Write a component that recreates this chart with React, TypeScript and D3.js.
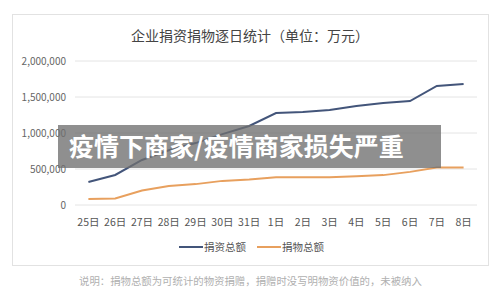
import React from "react";
import * as d3 from "d3";

const categories = ["25日", "26日", "27日", "28日", "29日", "30日", "31日", "1日", "2日", "3日", "4日", "5日", "6日", "7日", "8日"];
const cashDonations = [320000, 417000, 625000, 760000, 860000, 985000, 1097000, 1278000, 1290000, 1320000, 1375000, 1417000, 1444000, 1653000, 1680000];
const goodsDonations = [83000, 90000, 200000, 265000, 290000, 335000, 355000, 385000, 385000, 385000, 400000, 415000, 460000, 520000, 520000];
const yTicks = [0, 500000, 1000000, 1500000, 2000000];
const seriesNames = ["捐资总额", "捐物总额"];
const title = "企业捐资捐物逐日统计（单位：万元）";
const note = "说明：捐物总额为可统计的物资捐赠，捐赠时没写明物资价值的，未被纳入";
const banner = "疫情下商家/疫情商家损失严重";

const FONT = "'Noto Sans CJK SC', 'Noto Sans', sans-serif";
const BLUE = "#43557a";
const ORANGE = "#e8a05e";

export default function App() {
  const W = 500, H = 295;
  const x = d3.scaleBand<string>().domain(categories).range([75, 477]);
  const y = d3.scaleLinear().domain([0, 2000000]).range([205, 61]);
  const cx = (c: string) => (x(c) as number) + x.bandwidth() / 2;
  const line = d3.line<number>().x((_, i) => cx(categories[i])).y((d) => y(d));
  const fmt = d3.format(",");
  return (
    <svg width={W} height={H} style={{ position: "absolute", left: 0, top: 0, background: "#fff" }} fontFamily={FONT}>
      <rect x={0} y={0} width={W} height={H} fill="#fff" />
      <rect x={12.5} y={14.5} width={476} height={251} fill="#fff" stroke="#e2e2e2" />
      <text x={250} y={41} textAnchor="middle" fontSize={14} fill="#444">{title}</text>
      {yTicks.map((t) => (
        <g key={t}>
          <line x1={75} x2={477} y1={y(t)} y2={y(t)} stroke="#e4e4e4" />
          <text x={66} y={y(t) + 3.5} textAnchor="end" fontSize={10} fill="#666">{fmt(t)}</text>
        </g>
      ))}
      {categories.map((c) => (
        <text key={c} x={cx(c)} y={226} textAnchor="middle" fontSize={10.5} fill="#555">{c}</text>
      ))}
      <path d={line(goodsDonations) || ""} fill="none" stroke={ORANGE} strokeWidth={2} />
      <path d={line(cashDonations) || ""} fill="none" stroke={BLUE} strokeWidth={2} />
      <g fontSize={10.5} fill="#555">
        <line x1={179} x2={203} y1={247} y2={247} stroke={BLUE} strokeWidth={2} />
        <text x={204} y={251}>{seriesNames[0]}</text>
        <line x1={257} x2={281} y1={247} y2={247} stroke={ORANGE} strokeWidth={2} />
        <text x={282} y={251}>{seriesNames[1]}</text>
      </g>
      <text x={79} y={285} fontSize={10.4} fill="#b0b0b0">{note}</text>
      <rect x={58} y={125} width={383} height={43} fill="#707070" fillOpacity={0.78} />
      <text x={69} y={156} fontSize={25} fontWeight="bold" fill="#fff">{banner}</text>
    </svg>
  );
}
